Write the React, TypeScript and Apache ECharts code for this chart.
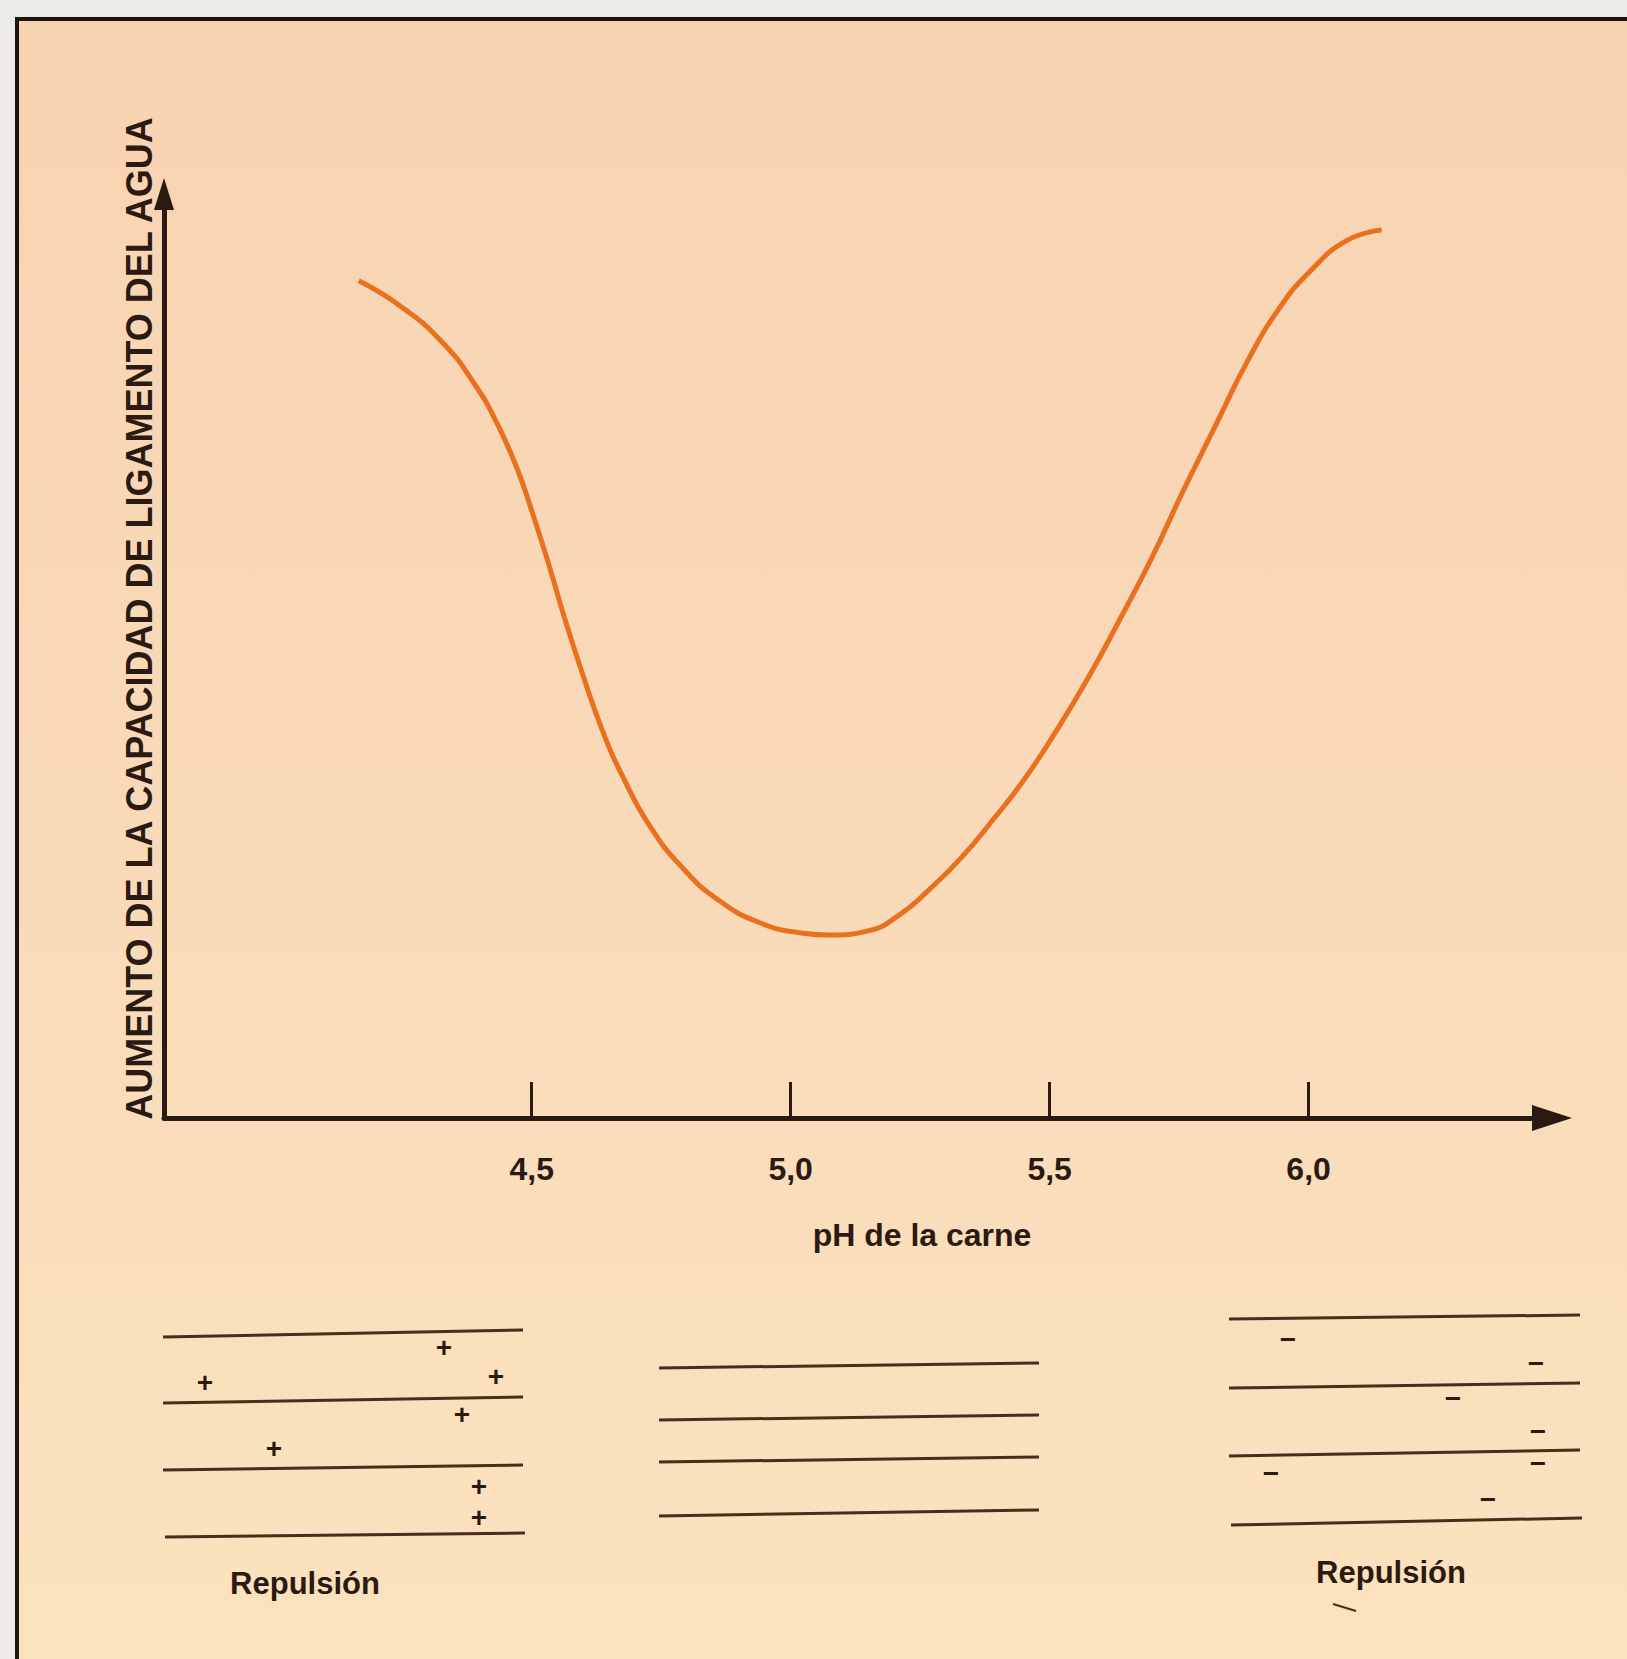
import React, { useEffect, useRef } from "react";
import * as echarts from "echarts";

// ---- Data ----
const phValues = [
  4.166, 4.248, 4.33, 4.391, 4.432, 4.473, 4.503, 4.534, 4.564, 4.595, 4.636, 4.677,
  4.728, 4.789, 4.86, 4.942, 5.024, 5.075, 5.146, 5.208, 5.269, 5.33, 5.391, 5.453,
  5.514, 5.575, 5.636, 5.698, 5.759, 5.82, 5.881, 5.943, 6.004, 6.075, 6.141,
];
const capacity = [
  90.6, 87.8, 83.8, 79.3, 75.3, 70.1, 65.2, 59.7, 54.0, 48.6, 42.0, 36.8,
  31.6, 27.2, 23.6, 21.1, 20.0, 19.8, 20.2, 21.9, 24.8, 28.2, 32.3, 36.8,
  42.0, 47.7, 54.0, 60.7, 68.0, 74.9, 81.8, 87.6, 91.7, 95.0, 96.1,
];
const tickValues = [4.5, 5.0, 5.5, 6.0];
const tickLabels = ["4,5", "5,0", "5,5", "6,0"];
const xAxisTitle = "pH de la carne";
const yAxisTitle = "AUMENTO DE LA CAPACIDAD DE LIGAMENTO DEL AGUA";
const captionText = "Repulsión";
const plusSign = "+";
const minusSign = "−";

// ---- Layout of the schematic drawings under the chart ----
const INK = "#2b1a12";
const LINE_INK = "#4a2c1c";
const FONT = "'Liberation Sans', Arial, Helvetica, sans-serif";

const leftLines = [
  [163, 1337, 523, 1330],
  [163, 1403, 523, 1397],
  [163, 1470, 523, 1465],
  [165, 1537, 525, 1533],
];
const leftPlus = [
  [444, 1347],
  [205, 1382],
  [496, 1376],
  [462, 1414],
  [274, 1448],
  [479, 1486],
  [479, 1517],
];
const midLines = [
  [659, 1368, 1039, 1363],
  [659, 1420, 1039, 1415],
  [659, 1462, 1039, 1457],
  [659, 1516, 1039, 1510],
];
const rightLines = [
  [1229, 1319, 1580, 1315],
  [1229, 1388, 1580, 1383],
  [1229, 1456, 1580, 1450],
  [1231, 1525, 1582, 1518],
];
const rightMinus = [
  [1288, 1339],
  [1536, 1363],
  [1453, 1398],
  [1538, 1431],
  [1538, 1463],
  [1271, 1473],
  [1488, 1499],
];

function lineEl(c: number[]) {
  return {
    type: "line",
    shape: { x1: c[0], y1: c[1], x2: c[2], y2: c[3] },
    style: { stroke: LINE_INK, lineWidth: 3 },
    z: 5,
  };
}
function signEl(p: number[], s: string, size: number) {
  return {
    type: "text",
    x: p[0],
    y: p[1],
    style: {
      text: s,
      fill: INK,
      font: `bold ${size}px ${FONT}`,
      align: "center",
      verticalAlign: "middle",
    },
    z: 5,
  };
}

export default function App() {
  const ref = useRef<HTMLDivElement>(null);

  useEffect(() => {
    document.body.style.margin = "0";
    document.body.style.overflow = "hidden";
    if (!ref.current) return;
    const chart = echarts.init(ref.current, undefined, { renderer: "svg" });

    const labelFor = (v: number) => {
      const i = tickValues.findIndex((t) => Math.abs(t - v) < 1e-6);
      return i >= 0 ? tickLabels[i] : "";
    };

    const graphics: any[] = [
      {
        type: "rect",
        shape: { x: 17, y: 19, width: 1640, height: 1680 },
        style: {
          fill: new echarts.graphic.LinearGradient(0, 0, 0, 1, [
            { offset: 0, color: "#F8D3B2" },
            { offset: 0.5, color: "#F9DAB8" },
            { offset: 1, color: "#FBE3BE" },
          ]),
          stroke: "#1b1410",
          lineWidth: 4,
        },
        z: -10,
      },
      ...leftLines.map(lineEl),
      ...midLines.map(lineEl),
      ...rightLines.map(lineEl),
      ...leftPlus.map((p) => signEl(p, plusSign, 28)),
      ...rightMinus.map((p) => signEl(p, minusSign, 28)),
      {
        type: "line",
        shape: { x1: 1333, y1: 1604, x2: 1356, y2: 1611 },
        style: { stroke: LINE_INK, lineWidth: 2 },
        z: 5,
      },
      {
        type: "text",
        x: 305,
        y: 1583,
        style: {
          text: captionText,
          fill: INK,
          font: `bold 31px ${FONT}`,
          align: "center",
          verticalAlign: "middle",
        },
        z: 5,
      },
      {
        type: "text",
        x: 1391,
        y: 1572,
        style: {
          text: captionText,
          fill: INK,
          font: `bold 31px ${FONT}`,
          align: "center",
          verticalAlign: "middle",
        },
        z: 5,
      },
    ];

    chart.setOption({
      animation: false,
      backgroundColor: "#ECEAE5",
      grid: { left: 164, right: 75, top: 194, bottom: 541 },
      xAxis: {
        type: "value",
        min: 3.79,
        max: 6.47,
        name: xAxisTitle,
        nameLocation: "middle",
        nameGap: 101,
        nameTextStyle: {
          color: INK,
          fontSize: 32,
          fontWeight: "bold",
          fontFamily: FONT,
          padding: [0, 0, 0, 128],
        },
        axisLine: {
          show: true,
          symbol: ["none", "triangle"],
          symbolSize: [26, 40],
          lineStyle: { color: INK, width: 5 },
        },
        axisTick: {
          show: true,
          inside: true,
          length: 36,
          customValues: tickValues,
          lineStyle: { color: INK, width: 3 },
        },
        axisLabel: {
          show: true,
          customValues: tickValues,
          formatter: labelFor,
          margin: 35,
          color: INK,
          fontSize: 32,
          fontWeight: "bold",
          fontFamily: FONT,
        },
        splitLine: { show: false },
      },
      yAxis: {
        type: "value",
        min: 0,
        max: 100,
        name: yAxisTitle,
        nameLocation: "middle",
        nameRotate: 90,
        nameGap: 7,
        nameTextStyle: {
          color: INK,
          fontSize: 36,
          fontWeight: "bold",
          fontFamily: FONT,
          padding: [0, 0, 0, 75],
        },
        axisLine: {
          show: true,
          symbol: ["none", "triangle"],
          symbolSize: [20, 32],
          lineStyle: { color: INK, width: 5 },
        },
        axisTick: { show: false },
        axisLabel: { show: false },
        splitLine: { show: false },
      },
      series: [
        {
          type: "line",
          data: phValues.map((x, i) => [x, capacity[i]]),
          smooth: 0.5,
          showSymbol: false,
          lineStyle: { color: "#E8701F", width: 5 },
          z: 3,
        },
      ],
      graphic: { elements: graphics },
    });

    return () => chart.dispose();
  }, []);

  return <div ref={ref} style={{ width: 1627, height: 1659 }} />;
}
